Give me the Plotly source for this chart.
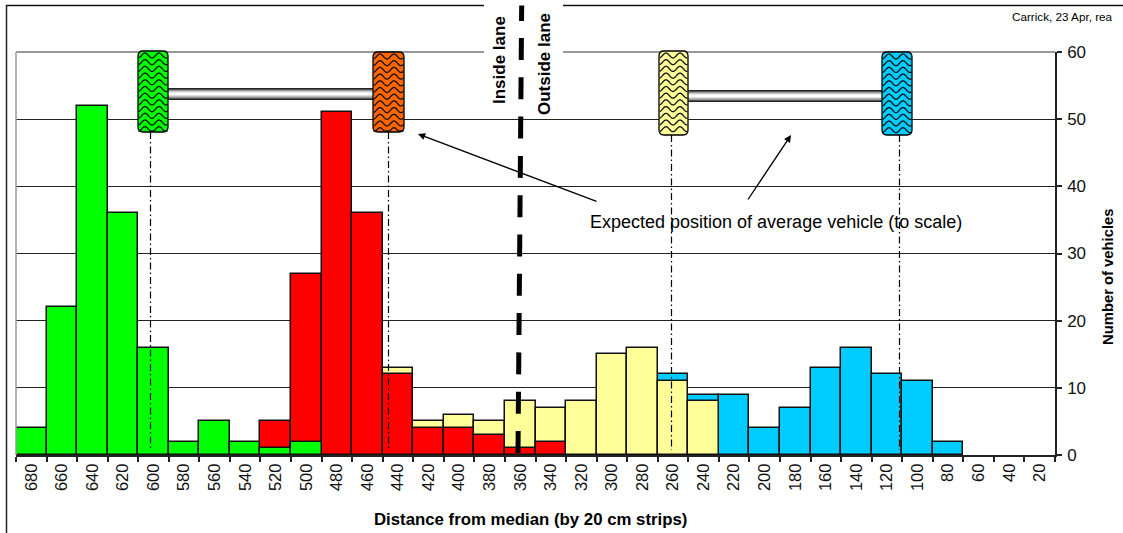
import math
import plotly.graph_objects as go

categories = [str(v) for v in range(680, 0, -20)]

green_cats = ["680", "660", "640", "620", "600", "580", "560", "540", "520", "500"]
green_vals = [4, 22, 52, 36, 16, 2, 5, 2, 1, 2]
red_cats = ["520", "500", "480", "460", "440", "420", "400", "380", "360", "340"]
red_vals = [5, 27, 51, 36, 12, 4, 4, 3, 1, 2]
yellow_cats = ["440", "420", "400", "380", "360", "340", "320", "300", "280", "260", "240"]
yellow_vals = [13, 5, 6, 5, 8, 7, 8, 15, 16, 11, 8]
blue_cats = ["260", "240", "220", "200", "180", "160", "140", "120", "100", "80"]
blue_vals = [12, 9, 9, 4, 7, 13, 16, 12, 11, 2]

W, H = 1123, 533
L, R, T, B = 16, 1055, 52, 455
FONT = "Liberation Sans"


def px(x):
    return (x - L) / (R - L)


def py(y):
    return (B - y) / (B - T)


shapes = []
annotations = []


def line(x0, y0, x1, y1, color="black", width=1, dash="solid"):
    shapes.append(dict(type="line", xref="paper", yref="paper", x0=px(x0), x1=px(x1),
                       y0=py(y0), y1=py(y1), line=dict(color=color, width=width, dash=dash)))


def rect(x0, y0, x1, y1, fill):
    shapes.append(dict(type="rect", xref="paper", yref="paper", x0=px(x0), x1=px(x1),
                       y0=py(y0), y1=py(y1), fillcolor=fill, line=dict(width=0)))


def wheel(x0, y0, x1, y1, fill):
    r = 5
    pts = [
        f"M{px(x0 + r)},{py(y0)}", f"L{px(x1 - r)},{py(y0)}", f"Q{px(x1)},{py(y0)} {px(x1)},{py(y0 + r)}",
        f"L{px(x1)},{py(y1 - r)}", f"Q{px(x1)},{py(y1)} {px(x1 - r)},{py(y1)}",
        f"L{px(x0 + r)},{py(y1)}", f"Q{px(x0)},{py(y1)} {px(x0)},{py(y1 - r)}",
        f"L{px(x0)},{py(y0 + r)}", f"Q{px(x0)},{py(y0)} {px(x0 + r)},{py(y0)}", "Z",
    ]
    shapes.append(dict(type="path", xref="paper", yref="paper", path=" ".join(pts),
                       fillcolor=fill, line=dict(color="black", width=1.3)))
    yy = y0 + 4.5
    while yy < y1 - 1.5:
        seg = []
        for k in range(int(x1 - x0) * 2 - 1):
            x = x0 + 0.5 + k * 0.5
            y = yy + 2.5 * math.cos((x - x0) * 2 * math.pi / 14)
            y = min(y, y1 - 1)
            y = max(y, y0 + 1)
            seg.append(f"{'M' if k == 0 else 'L'}{px(x)},{py(y)}")
        shapes.append(dict(type="path", xref="paper", yref="paper", path=" ".join(seg),
                           line=dict(color="#111111", width=1.3)))
        yy += 6.7


def axle(x0, x1, y0):
    tones = ["#222222", "#555555", "#999999", "#c8c8c8", "#eeeeee", "#ffffff",
             "#ffffff", "#e0e0e0", "#bbbbbb", "#999999", "#555555", "#222222"]
    for i, c in enumerate(tones):
        rect(x0, y0 + i, x1, y0 + i + 1, c)


# Frame and top gridline
line(6, 5.5, 1123, 5.5, "#111111", 1.5)
line(6.5, 5, 6.5, 533, "#222222", 1.5)
line(L, T, R, T, "#999999", 2)
line(L, T, L, B, "#999999", 1.5)

# White block behind the lane labels
rect(484, 0, 563, 115, "white")

# Axles and wheels
axle(168, 373, 88)
axle(688, 882, 90)
wheel(138, 51, 168, 132, "#00ff00")
wheel(373, 52, 404, 132, "#ff6600")
wheel(659, 51, 688, 135, "#ffff99")
wheel(882, 52, 912, 135, "#00ccff")

# Dash-dot drop lines
for x, y0 in [(150, 132), (388, 132), (671, 135), (899, 135)]:
    line(x + 0.5, y0, x + 0.5, 450, "black", 1.2, "7px,3px,1.5px,3px")

# Centre dashed line (slightly tilted, as in the original drawing)
line(521.7, 5.5, 521.5, 21, "black", 5)
line(521.4, 38, 518, 453, "black", 5, "22px,17.3px")

# Arrows
annotations.append(dict(xref="paper", yref="paper", axref="pixel", ayref="pixel",
                        x=px(418), y=py(134), ax=180, ay=68, text="", showarrow=True,
                        arrowhead=2, arrowsize=1.1, arrowwidth=1.3, arrowcolor="black"))
annotations.append(dict(xref="paper", yref="paper", axref="pixel", ayref="pixel",
                        x=px(791), y=py(135), ax=-44, ay=66, text="", showarrow=True,
                        arrowhead=2, arrowsize=1.1, arrowwidth=1.3, arrowcolor="black"))


def label(x, y, text, size, bold=False, angle=0, anchor="center", color="black"):
    annotations.append(dict(xref="paper", yref="paper", x=px(x), y=py(y), text=f"<b>{text}</b>" if bold else text,
                            showarrow=False, xanchor=anchor, yanchor="middle", textangle=angle,
                            font=dict(family=FONT, size=size, color=color)))


label(776, 222, "Expected position of average vehicle (to scale)", 18)
label(500, 60, "Inside lane", 17, True, -90)
label(545, 64, "Outside lane", 17, True, -90)
label(1115, 17, "Carrick, 23 Apr, rea", 11.7, anchor="right")
label(530, 519, "Distance from median (by 20 cm strips)", 16.8, True)
label(1108, 277, "Number of vehicles", 14.8, True, -90)

fig = go.Figure()
for cats, vals, col in [(blue_cats, blue_vals, "#00ccff"), (yellow_cats, yellow_vals, "#ffff99"),
                        (red_cats, red_vals, "#ff0000"), (green_cats, green_vals, "#00ff00")]:
    fig.add_trace(go.Bar(x=cats, y=vals, marker=dict(color=col, line=dict(color="#111111", width=1.5))))

fig.update_layout(
    width=W, height=H, barmode="overlay", bargap=0, showlegend=False,
    margin=dict(l=L, r=W - R, t=T, b=H - B, pad=0),
    paper_bgcolor="white", plot_bgcolor="white",
    shapes=shapes, annotations=annotations,
    font=dict(family=FONT, color="#111111"),
    xaxis=dict(type="category", categoryorder="array", categoryarray=categories, range=[-0.5, 33.5],
               ticks="outside", tickson="boundaries", ticklen=5, tickcolor="#222222", tickwidth=1.5,
               tickangle=-90, tickfont=dict(size=16.5), showline=True, linecolor="#222222", linewidth=2,
               showgrid=False),
    yaxis=dict(side="right", range=[0, 60], dtick=10, ticks="outside", ticklen=5, tickcolor="#222222",
               tickwidth=1.5, tickfont=dict(size=17), ticklabelstandoff=2, showline=True, linecolor="#222222",
               linewidth=1.5, showgrid=True, gridcolor="#222222", gridwidth=1.3, zeroline=False),
)

fig.write_html("out.html", post_script="document.body.style.margin='0';document.body.style.overflow='hidden';",
               config=dict(displayModeBar=False))
